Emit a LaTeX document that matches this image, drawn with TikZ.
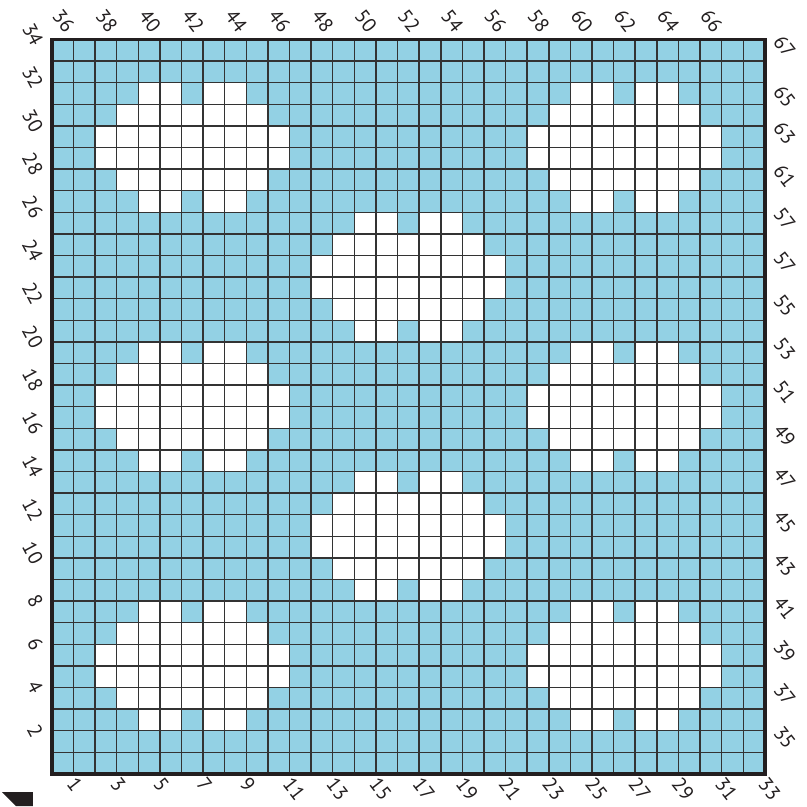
\documentclass[tikz,border=0pt]{standalone}
\usepackage{fontspec}
\setmainfont{PT Sans}
\definecolor{chartblue}{HTML}{93D1E4}
\definecolor{chartink}{HTML}{231F20}
\definecolor{chartline}{HTML}{333333}

\begin{document}
\begin{tikzpicture}[
  x=0.648cm,
  y=0.648cm,
  every node/.style={font=\fontsize{17}{19}\selectfont, chartink, inner sep=0pt},
  stitchnum/.style={rotate=-52},
  sidenum/.style={rotate=-62},
  cellgrid/.style={chartline, line width=1.2pt},
  frame/.style={chartink, line width=3.4pt},
  blank/.style={fill=white},
  ground/.style={fill=chartblue}
]
  \useasboundingbox (-2.407,-1.486) rectangle (34.954,35.829);

  %% ---- chart cells --------------------------------------------------
  \fill[ground] (0,0) rectangle (33,34);

  % one flower = 6 rows of white runs: row/from/to (col offsets)
  \foreach \mc/\mr in {3/3, 23/3, 13/9, 3/15, 23/15, 13/21, 3/27, 23/27}
    \foreach \dr/\from/\to in {0/2/3, 0/5/6, 1/1/7, 2/0/8, 3/0/8, 4/1/7, 5/2/3, 5/5/6}
      \fill[blank] ({\mc+\from-1},{34-\mr-\dr}) rectangle ({\mc+\to},{35-\mr-\dr});

  \foreach \c in {1,...,32}
    \draw[cellgrid] (\c,0) -- (\c,34);
  \foreach \r in {1,...,33}
    \draw[cellgrid] (0,\r) -- (33,\r);
  \draw[frame] (0,0) rectangle (33,34);

  %% ---- stitch numbers -----------------------------------------------
  \foreach \k in {1,3,...,33}
    \node[stitchnum, anchor=west] (bot\k) at ({\k-0.1},-0.3) {\k};

  \foreach \k [evaluate=\k as \lab using int(35+\k)] in {1,3,...,31}
    \node[stitchnum, anchor=east] (top\lab) at ({\k-0.15},34.45) {\lab};

  \foreach \n in {2,4,...,34}
    \node[sidenum, anchor=east] (left\n) at (-0.65,{\n-0.22}) {\n};

  \foreach \i/\yy/\lab in {1/34/67, 2/31.68/65, 3/30/63, 4/28/61, 5/26/57, 6/24/57,
                          7/22/55, 8/20/53, 9/18/51, 10/16/49, 11/14/47, 12/12/45,
                          13/10/43, 14/8/41, 15/6/39, 16/4/37, 17/2/35}
    \node[stitchnum, anchor=west] (right\i) at (33.6,{\yy+0.08}) {\lab};

  %% ---- corner mark --------------------------------------------------
  \fill[chartink] (-2.315,-0.838) -- (-0.88,-0.838) -- (-0.88,-1.486)
    -- (-1.667,-1.486) -- cycle;

\end{tikzpicture}
\end{document}
